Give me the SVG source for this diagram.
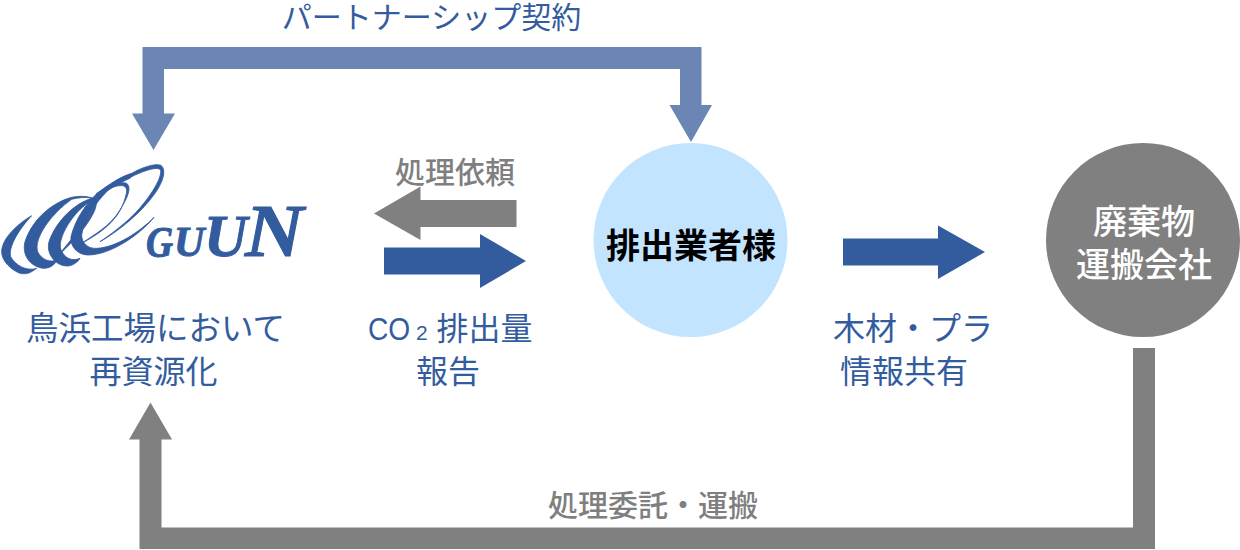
<svg xmlns="http://www.w3.org/2000/svg" width="1240" height="550" viewBox="0 0 1240 550">
<style>
text{font-family:"Noto Sans CJK JP","Liberation Sans",sans-serif;text-anchor:middle}
.b{fill:#335c9f;font-size:32px}
.g{fill:#7f7f7f;font-size:30px;font-weight:500}
.w{fill:#fff;font-size:34px;font-weight:500}
.logo{font-family:"Liberation Serif",serif;font-weight:700;font-style:italic;fill:#335c9f;stroke:#335c9f;stroke-width:1;text-anchor:start}
.sw{fill:#335c9f;stroke:#335c9f;stroke-width:2.500}
.la{font-family:"Liberation Sans",sans-serif;text-anchor:start}
</style>
<rect width="1240" height="550" fill="#fff"/>
<g id="connectors">
<polygon fill="#6b86b5" points="142.500,47 701.500,47 701.500,105 712,105 691,142 669.500,105 680,105 680,69 164,69 164,113.500 175,113.500 153.500,150 132,113.500 142.500,113.500"/>
<polygon fill="#808080" points="1155,348 1155,549 139.500,549 139.500,439.500 129,439.500 150.500,402.500 172,439.500 161.500,439.500 161.500,527.500 1133,527.500 1133,348"/>
<polygon fill="#808080" points="516.500,200 420.500,200 420.500,186.500 374,213.500 420.500,240 420.500,227 516.500,227"/>
<polygon fill="#335c9f" points="384,247.500 480,247.500 480,234 526,261 480,288 480,274.500 384,274.500"/>
<polygon fill="#335c9f" points="843,238.500 938,238.500 938,225.500 985,252 938,279 938,265.500 843,265.500"/>
</g>
<g id="label-partner"><text class="b" style="font-size:30px" x="431.500" y="28">パートナーシップ契約</text></g>
<g id="label-request"><text class="g" x="455" y="183">処理依頼</text></g>
<g id="label-co2"><text class="b la" transform="translate(368 340) scale(.88 1)">CO</text><text class="b la" style="font-size:21px" x="416" y="340">2</text><text class="b" style="text-anchor:start" x="436.500" y="340">排出量</text><text class="b" x="448" y="383">報告</text></g>
<g id="label-info"><text class="b" x="913" y="340">木材・プラ</text><text class="b" x="904" y="383">情報共有</text></g>
<g id="label-consign"><text class="g" x="653" y="516">処理委託・運搬</text></g>
<g id="node-emitter"><circle cx="690.500" cy="240" r="97" fill="#c2e4ff"/><text x="691" y="258" font-size="34" font-weight="700" fill="#000">排出業者様</text></g>
<g id="node-transport"><circle cx="1143" cy="240" r="97" fill="#808080"/><text class="w" x="1144" y="234">廃棄物</text><text class="w" x="1144" y="277">運搬会社</text></g>
<g id="node-guun">
<g class="sw" transform="translate(0 160) scale(.33333)">
<path d="M95 167C55 190 5 235 5 275C5 305 35 330 60 340C85 345 95 335 110 325C80 335 45 315 32 290C25 265 50 215 95 167Z"/>
<path d="M215 112C165 125 100 170 75 245C65 285 90 320 130 325C150 325 165 315 170 300C150 308 125 300 113 275C100 235 155 160 215 118C235 112 255 112 275 113C255 108 235 108 215 112Z"/>
<path d="M275 115C225 130 170 180 147 245C137 285 170 320 205 318C220 316 235 305 240 295C215 305 195 295 183 270C170 235 220 155 270 125C285 115 290 110 275 115Z"/>
<path d="M298 95C260 125 225 180 213 230C210 262 235 285 265 285C330 285 420 225 462 172C420 215 350 262 290 265C265 267 245 250 245 225C250 185 285 130 320 95C350 70 395 55 395 50C440 28 478 18 482 32C485 60 440 125 400 165C370 195 330 225 300 245C345 220 420 165 465 100C490 65 500 30 483 16C465 8 420 25 395 40C360 50 325 75 298 95Z"/>
<path d="M290 100C320 80 360 62 380 70C395 82 385 110 360 150C330 200 280 225 245 250C290 225 350 190 372 125C380 100 385 85 372 78C350 72 315 90 285 112Z"/>
<path d="M270 118C290 115 290 135 265 170C240 205 195 265 165 295C205 260 255 210 280 160C295 130 290 110 270 118Z"/>
</g>
<text class="logo" transform="translate(146 257) scale(.85 1)" font-size="44">G</text>
<text class="logo" transform="translate(174 256)" font-size="42">U</text>
<text class="logo" transform="translate(204 256)" font-size="60">U</text>
<text class="logo" transform="translate(245 256) scale(1.1 1)" font-size="74">N</text>
</g>
<g id="label-guun"><text class="b" style="font-size:32.500px" x="155.500" y="340">鳥浜工場において</text><text class="b" x="153.500" y="383">再資源化</text></g>
</svg>
